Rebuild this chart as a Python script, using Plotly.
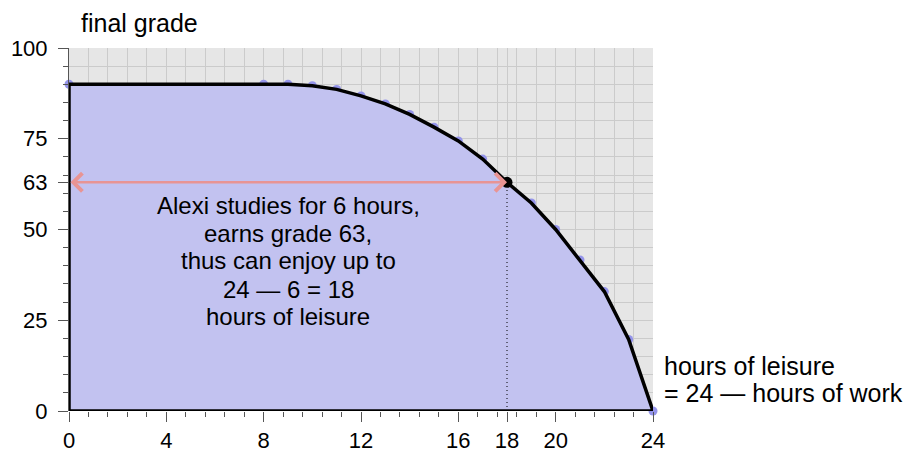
import plotly.graph_objects as go

# leisure hours vs final grade (production possibilities frontier)
leisure = [0, 8, 9, 10, 11, 12, 13, 14, 15, 16, 17, 18, 19, 20, 21, 22, 23, 24]
grade = [90, 90, 90, 89.6, 88.6, 86.8, 84.6, 81.7, 78.2, 74.4, 69.4, 63, 57.3, 50, 41.6, 32.9, 19.7, 0]

chosen_leisure = 18
chosen_grade = 63

x_ticks = [0, 4, 8, 12, 16, 18, 20, 24]
y_ticks = [0, 25, 50, 63, 75, 100]

note_lines = [
    "Alexi studies for 6 hours,",
    "earns grade 63,",
    "thus can enjoy up to",
    "24 \u2014 6 = 18",
    "hours of leisure",
]
note_y = [56.7, 49.0, 41.4, 33.4, 25.9]

FONT = "Liberation Sans, Arial, Helvetica, sans-serif"

# the page body adds an 8px offset, so the figure is a bit smaller than the window
W, H = 912, 447
L, R, T, B = 61, 267, 40, 44
pw, ph = W - L - R, H - T - B


def px_to_paper(x, y):
    # window pixel position -> paper fraction
    return (x - 8 - L) / pw, 1 - (y - 8 - T) / ph


fig = go.Figure()

# data dots (drawn first so the shaded region covers their inner half)
fig.add_trace(go.Scatter(
    x=leisure, y=grade, mode="markers",
    marker=dict(color="#9494ea", size=9),
    cliponaxis=False, hoverinfo="skip",
))

# shaded feasible region, outlined in black
poly_x = [0] + leisure + [0]
poly_y = [0] + grade + [0]
fig.add_trace(go.Scatter(
    x=poly_x, y=poly_y, mode="lines",
    fill="toself", fillcolor="#c2c2f0",
    line=dict(color="black", width=3.5),
    cliponaxis=False, hoverinfo="skip",
))

# dotted drop line to the x axis
fig.add_trace(go.Scatter(
    x=[chosen_leisure, chosen_leisure], y=[0, chosen_grade], mode="lines",
    line=dict(color="black", width=1, dash="1px,3px"),
    hoverinfo="skip",
))

# chosen point
fig.add_trace(go.Scatter(
    x=[chosen_leisure], y=[chosen_grade], mode="markers",
    marker=dict(color="black", size=11),
    cliponaxis=False, hoverinfo="skip",
))

# double-headed arrow at grade 63
fig.add_annotation(
    x=chosen_leisure, y=chosen_grade, ax=0, ay=chosen_grade,
    xref="x", yref="y", axref="x", ayref="y",
    text="", showarrow=True,
    arrowhead=4, startarrowhead=4, arrowside="end+start",
    arrowsize=1.4, startarrowsize=1.4,
    arrowwidth=2.5, arrowcolor="#e89494",
    standoff=0, startstandoff=0,
)

for line, yy in zip(note_lines, note_y):
    fig.add_annotation(
        x=9.0, y=yy, xref="x", yref="y", text=line, showarrow=False,
        font=dict(size=24, color="black", family=FONT),
        xanchor="center", yanchor="middle",
    )

side_labels = [
    ("final grade", 79, 23),
    ("hours of leisure", 662, 366),
    ("= 24 \u2014 hours of work", 662, 393),
]
for text, px, py in side_labels:
    ax_, ay_ = px_to_paper(px, py)
    fig.add_annotation(
        x=ax_, y=ay_, xref="paper", yref="paper", text=text, showarrow=False,
        font=dict(size=25, color="black", family=FONT),
        xanchor="left", yanchor="middle",
    )

fig.update_xaxes(
    range=[0, 24], tickvals=x_ticks, ticktext=[str(v) for v in x_ticks],
    ticks="outside", ticklen=10, tickwidth=1, tickcolor="#555",
    showgrid=True, gridcolor="#cbcbcb", gridwidth=1,
    minor=dict(dtick=0.8, tick0=0, showgrid=True, gridcolor="#cbcbcb",
               ticks="outside", ticklen=5, tickcolor="#555"),
    showline=False, zeroline=False, automargin=False,
    tickfont=dict(size=22, color="black", family=FONT),
)
fig.update_yaxes(
    range=[0, 100], tickvals=y_ticks, ticktext=[str(v) for v in y_ticks],
    ticks="outside", ticklen=10, tickwidth=1, tickcolor="#555",
    showgrid=True, gridcolor="#cbcbcb", gridwidth=1,
    minor=dict(dtick=5, tick0=0, showgrid=True, gridcolor="#cbcbcb",
               ticks="outside", ticklen=5, tickcolor="#555"),
    showline=True, linecolor="#555", linewidth=1, zeroline=False, automargin=False,
    ticklabelstandoff=6,
    tickfont=dict(size=22, color="black", family=FONT),
)

fig.update_layout(
    width=W, height=H,
    margin=dict(l=L, r=R, t=T, b=B),
    plot_bgcolor="#e6e6e6", paper_bgcolor="white",
    showlegend=False,
)

fig.write_html("out.html")
